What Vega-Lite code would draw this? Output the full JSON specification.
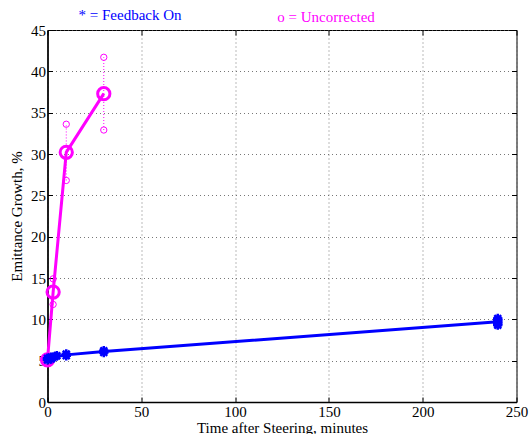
{
  "$schema": "https://vega.github.io/schema/vega-lite/v6.json",
  "width": 469,
  "height": 372,
  "autosize": {"type": "none"},
  "padding": {"left": 47.5, "top": 30, "right": 12.5, "bottom": 32},
  "background": "white",
  "config": {
    "view": {"stroke": "black", "strokeWidth": 1},
    "font": "Liberation Serif",
    "text": {"font": "Liberation Serif"},
    "axis": {
      "labelFont": "Liberation Serif",
      "titleFont": "Liberation Serif",
      "labelFontSize": 15,
      "titleFontSize": 15,
      "titleFontWeight": "normal",
      "labelColor": "black",
      "titleColor": "black",
      "domainColor": "black",
      "domainWidth": 1.5,
      "tickColor": "black",
      "tickSize": -5,
      "tickWidth": 1,
      "labelPadding": 7,
      "labelFlush": false,
      "labelOverlap": false,
      "gridColor": "#555555",
      "gridDash": [1, 3],
      "gridWidth": 1,
      "gridOpacity": 0.8
    }
  },
  "datasets": {
    "means": [
      {"series": "Feedback On", "t": 0, "v": 5.2},
      {"series": "Feedback On", "t": 2, "v": 5.4},
      {"series": "Feedback On", "t": 5, "v": 5.5},
      {"series": "Feedback On", "t": 10, "v": 5.7},
      {"series": "Feedback On", "t": 30, "v": 6.1},
      {"series": "Feedback On", "t": 240, "v": 9.7},
      {"series": "Uncorrected", "t": 0, "v": 5.1},
      {"series": "Uncorrected", "t": 3, "v": 13.3},
      {"series": "Uncorrected", "t": 10, "v": 30.2},
      {"series": "Uncorrected", "t": 30, "v": 37.3}
    ],
    "blueStars": [
      {"t": 0, "v": 5.1}, {"t": 0, "v": 5.3},
      {"t": 1, "v": 5.3}, {"t": 2, "v": 5.4}, {"t": 2, "v": 5.2},
      {"t": 4, "v": 5.5}, {"t": 5, "v": 5.6},
      {"t": 10, "v": 5.6}, {"t": 10, "v": 5.8},
      {"t": 30, "v": 6.0}, {"t": 30, "v": 6.2},
      {"t": 240, "v": 9.3}, {"t": 240, "v": 9.5}, {"t": 240, "v": 9.7}, {"t": 240, "v": 9.9}, {"t": 240, "v": 10.1}
    ],
    "magSmall": [
      {"t": 3, "v": 14.9}, {"t": 3, "v": 11.8},
      {"t": 10, "v": 33.6}, {"t": 10, "v": 26.8},
      {"t": 30, "v": 41.7}, {"t": 30, "v": 32.9}
    ],
    "magRange": [
      {"t": 3, "lo": 11.8, "hi": 14.9},
      {"t": 10, "lo": 26.8, "hi": 33.6},
      {"t": 30, "lo": 32.9, "hi": 41.7}
    ],
    "notes": [
      {"t": 44, "v": 46.8, "label": "* = Feedback On", "series": "Feedback On"},
      {"t": 148.5, "v": 46.55, "label": "o = Uncorrected", "series": "Uncorrected"}
    ]
  },
  "resolve": {"axis": {"x": "independent", "y": "independent"}},
  "layer": [
    {
      "layer": [
        {
          "data": {"name": "magRange"},
          "mark": {"type": "rule", "color": "#FF00FF", "strokeWidth": 1, "strokeDash": [1, 2]},
          "encoding": {
            "x": {"field": "t", "type": "quantitative",
                  "scale": {"domain": [0, 250], "nice": false},
                  "axis": {"title": "Time after Steering, minutes", "values": [0, 50, 100, 150, 200, 250], "titlePadding": 1}},
            "y": {"field": "lo", "type": "quantitative",
                  "scale": {"domain": [0, 45], "nice": false},
                  "axis": {"title": "Emittance Growth, %", "values": [0, 5, 10, 15, 20, 25, 30, 35, 40, 45], "titlePadding": 6}},
            "y2": {"field": "hi"}
          }
        },
        {
          "data": {"name": "means"},
          "mark": {"type": "line", "strokeWidth": 3, "clip": false},
          "encoding": {
            "x": {"field": "t", "type": "quantitative"},
            "y": {"field": "v", "type": "quantitative"},
            "color": {"field": "series", "type": "nominal",
                      "scale": {"domain": ["Feedback On", "Uncorrected"], "range": ["#0000FF", "#FF00FF"]},
                      "legend": null}
          }
        },
        {
          "data": {"name": "magSmall"},
          "mark": {"type": "point", "shape": "circle", "size": 40, "color": "#FF00FF", "strokeWidth": 1, "opacity": 1},
          "encoding": {
            "x": {"field": "t", "type": "quantitative"},
            "y": {"field": "v", "type": "quantitative"}
          }
        },
        {
          "data": {"name": "means"},
          "transform": [{"filter": "datum.series == 'Uncorrected'"}],
          "mark": {"type": "point", "shape": "circle", "size": 150, "color": "#FF00FF", "strokeWidth": 3, "opacity": 1, "clip": false},
          "encoding": {
            "x": {"field": "t", "type": "quantitative"},
            "y": {"field": "v", "type": "quantitative"}
          }
        },
        {
          "data": {"name": "blueStars"},
          "mark": {"type": "point", "shape": "M0,-1L0,1M-1,0L1,0M-0.72,-0.72L0.72,0.72M-0.72,0.72L0.72,-0.72", "size": 90, "color": "#0000FF", "strokeWidth": 2.5, "opacity": 1, "clip": false},
          "encoding": {
            "x": {"field": "t", "type": "quantitative"},
            "y": {"field": "v", "type": "quantitative"}
          }
        },
        {
          "data": {"name": "notes"},
          "mark": {"type": "text", "font": "Liberation Serif", "fontSize": 15, "align": "center", "baseline": "middle", "clip": false},
          "encoding": {
            "x": {"field": "t", "type": "quantitative"},
            "y": {"field": "v", "type": "quantitative"},
            "text": {"field": "label"},
            "color": {"field": "series", "type": "nominal",
                      "scale": {"domain": ["Feedback On", "Uncorrected"], "range": ["#0000FF", "#FF00FF"]},
                      "legend": null}
          }
        }
      ]
    },
    {
      "data": {"name": "magRange"},
      "mark": {"type": "point", "opacity": 0},
      "encoding": {
        "x": {"field": "t", "type": "quantitative",
              "axis": {"orient": "top", "title": null, "labels": false, "grid": false, "domain": false, "values": [0, 50, 100, 150, 200, 250]}},
        "y": {"field": "lo", "type": "quantitative",
              "axis": {"orient": "right", "title": null, "labels": false, "grid": false, "domain": false, "values": [0, 5, 10, 15, 20, 25, 30, 35, 40, 45]}}
      }
    }
  ]
}
